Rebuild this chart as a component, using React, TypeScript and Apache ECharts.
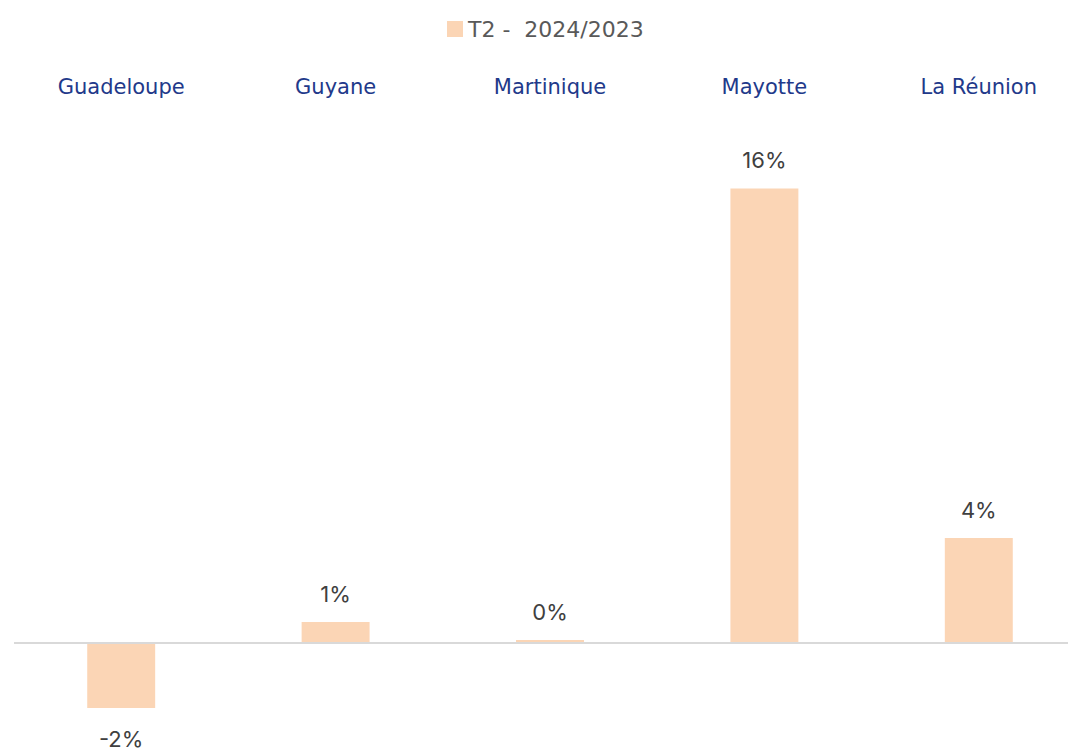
import React, { useEffect, useRef } from "react";
import * as echarts from "echarts";

const categories = ["Guadeloupe", "Guyane", "Martinique", "Mayotte", "La Réunion"];
const seriesName = "T2 -  2024/2023";
const values = [-2.3, 0.73, 0.1, 16.0, 3.69];

export default function App() {
  const ref = useRef<HTMLDivElement>(null);
  useEffect(() => {
    const chart = echarts.init(ref.current!, null, { renderer: "svg" });
    const font = "'DejaVu Sans', sans-serif";
    const fontNum = "Inter, sans-serif";
    chart.setOption({
      animation: false,
      textStyle: { fontFamily: font },
      legend: {
        top: 13,
        left: 442,
        itemWidth: 16,
        itemHeight: 16,
        icon: "rect",
        itemGap: 10,
        textStyle: { fontSize: 22, color: "#595959", fontFamily: font },
        data: [seriesName],
      },
      grid: { left: 14, width: 1072, top: 160, height: 568 },
      xAxis: [
        {
          type: "category",
          data: categories,
          position: "top",
          axisLine: { show: false },
          axisTick: { show: false },
          axisLabel: { margin: 63, fontSize: 21, color: "#22398a", fontFamily: font },
        },
      ],
      yAxis: {
        type: "value",
        min: -3,
        max: 17,
        show: false,
        splitLine: { show: false },
      },
      series: [
        {
          name: seriesName,
          type: "bar",
          data: values.map((v) =>
            v < 0 ? { value: v, label: { distance: 20 } } : v
          ),
          barWidth: "31.7%",
          itemStyle: { color: "#fbd5b5" },
          label: {
            show: true,
            position: "outside",
            distance: 17,
            fontSize: 22,
            color: "#404040",
            fontFamily: fontNum,
            formatter: (p: any) => Math.round(p.value) + "%",
          },
          markLine: {
            silent: true,
            symbol: ["none", "none"],
            label: { show: false },
            lineStyle: { color: "#d9d9d9", width: 2, type: "solid" },
            data: [{ yAxis: 0 }],
          },
        },
      ],
    });
    return () => chart.dispose();
  }, []);
  return (
    <div style={{ position: "absolute", left: 0, top: 0, width: 1068, height: 751, overflow: "hidden", background: "#fff" }}>
      <div ref={ref} style={{ width: 1090, height: 751 }} />
    </div>
  );
}
